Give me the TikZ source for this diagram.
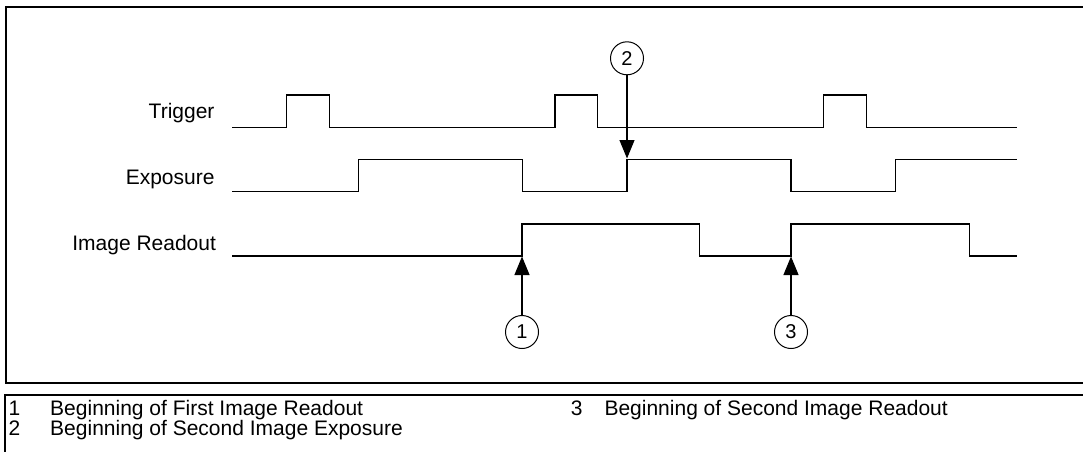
\documentclass[tikz,border=0pt]{standalone}
\usepackage{fontspec}
\setmainfont{Liberation Sans}
\usetikzlibrary{arrows.meta}
\tikzset{>={Triangle[width=15pt,length=18.5pt]}}
\tikzset{
  wave/.style={line width=1.1pt},
  frame/.style={line width=2pt},
  callout/.style={circle,draw,line width=1pt,minimum size=33pt,inner sep=0pt,
    font=\fontsize{20}{20}\selectfont},
  sig/.style={anchor=base east,font=\fontsize{21}{21}\selectfont},
  legend/.style={anchor=base west,font=\fontsize{21}{21}\selectfont}
}

\begin{document}
\begin{tikzpicture}[x=1pt,y=-1pt]
  \useasboundingbox (0,0) rectangle (1083,452);

  \newcommand\Xs{232};
  \newcommand\Xe{1017};

  % frames
  \draw[frame] (1083,6.7) -- (6,6.7) -- (6,383.3) -- (1083,383.3);
  \draw[frame] (1083,394.5) -- (5,394.5) -- (5,452);

  % signal names
  \node[sig] (trig) at (218,118) {Trigger};
  \node[sig] (expo) at (218,184.5) {Exposure};
  \node[sig] (read) at (219.5,250) {Image Readout};

  % traces
  \draw[wave] (\Xs,127.3) -| (286.3,95) -| (329.3,127.3) -| (555,95)
    -| (597.7,127.3) -| (823.7,95) -| (866.7,127.3) -- (\Xe,127.3);
  \draw[wave] (\Xs,191.7) -| (358.7,159.7) -| (522.3,191.7) -| (627,159.7)
    -| (791,191.7) -| (895.7,159.7) -- (\Xe,159.7);
  \draw[wave] (\Xs,256) -| (522,224) -| (699.6,256) -| (791,224)
    -| (969.3,256) -- (\Xe,256);

  % callouts
  \coordinate (e2) at (627,158.5);
  \coordinate (r1) at (522,256.5);
  \coordinate (r3) at (791,256.5);
  \node[callout] (c2) at (627,58.3) {2};
  \node[callout] (c1) at (522,332) {1};
  \node[callout] (c3) at (791,332) {3};
  \draw[->,wave] (c2) -- (e2);
  \draw[->,wave] (c1) -- (r1);
  \draw[->,wave] (c3) -- (r3);

  % legend
  \node[legend] (n1) at (5,415.5) {1};
  \node[legend] (t1) at (46.7,415.5) {Beginning of First Image Readout};
  \node[legend] (n2) at (5,435) {2};
  \node[legend] (t2) at (46.7,435) {Beginning of Second Image Exposure};
  \node[legend] (n3) at (567.4,415.5) {3};
  \node[legend] (t3) at (601,415.5) {Beginning of Second Image Readout};

\end{tikzpicture}
\end{document}
